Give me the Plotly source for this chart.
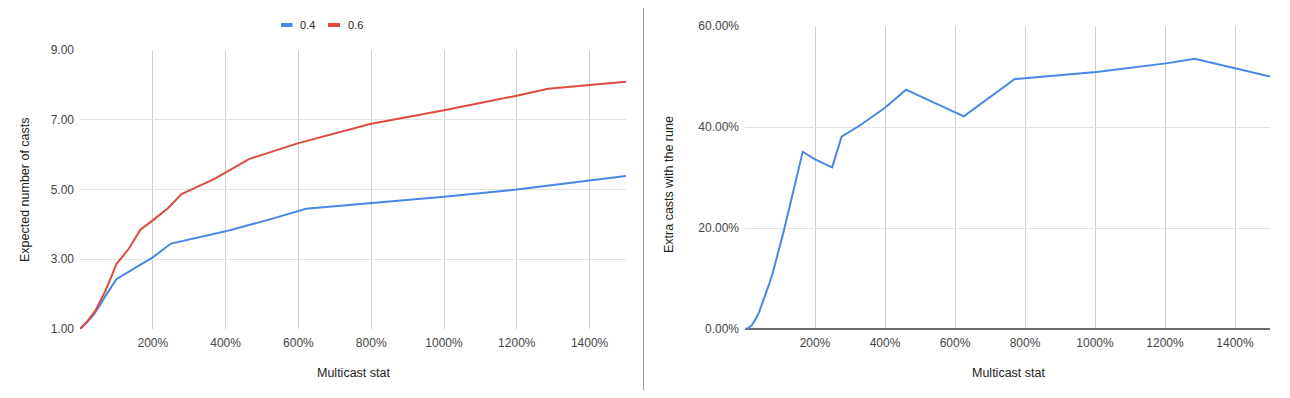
import plotly.graph_objects as go

# ---- data ----
series_names = ["0.4", "0.6"]

x_04 = [0, 20, 38, 55, 70, 85, 100, 157, 198, 250, 400, 524, 621, 1000, 1200, 1500]
y_04 = [1.00, 1.20, 1.42, 1.68, 1.95, 2.20, 2.43, 2.79, 3.04, 3.45, 3.80, 4.15, 4.45, 4.79, 5.00, 5.39]

x_06 = [0, 20, 42, 55, 70, 85, 100, 134, 166, 198, 240, 279, 368, 464, 600, 797, 1000, 1200, 1286, 1500]
y_06 = [1.00, 1.22, 1.52, 1.78, 2.10, 2.47, 2.86, 3.30, 3.85, 4.10, 4.45, 4.87, 5.30, 5.87, 6.33, 6.88, 7.27, 7.69, 7.89, 8.09]

x_extra = [0, 10, 20, 30, 40, 50, 60, 70, 80, 90, 100, 110, 120, 140, 165, 200, 249,
           276, 330, 400, 460, 625, 771, 1004, 1203, 1285, 1500]
y_extra = [0, 0.2, 0.8, 1.9, 3.3, 5.1, 7.0, 9.1, 11.3, 13.8, 16.4, 19.2, 22.1, 27.8, 35.1, 33.6, 32.0,
           38.1, 40.4, 43.8, 47.4, 42.1, 49.5, 50.9, 52.6, 53.5, 50.0]

x_ticks = [200, 400, 600, 800, 1000, 1200, 1400]
y_left_ticks = [1, 3, 5, 7, 9]
y_right_ticks = [0, 20, 40, 60]

BLUE = "#4a86e8"
RED = "#dd4b3e"
# page body has an 8px margin: draw a figure that exactly fills the rest of the window
OFF = 8
W, H = 1290 - 2 * OFF, 398 - 2 * OFF
FONT = "Liberation Sans, Arial, sans-serif"
TXT = "#444444"
GRID_X = "#cfcfcf"
GRID_Y = "#e2e2e2"


def px(x):
    return (x - OFF) / W


def py(y):
    return 1 - (y - OFF) / H


fig = go.Figure()
fig.add_trace(go.Scatter(x=x_04, y=y_04, mode="lines", name=series_names[0],
                         line=dict(color=BLUE, width=2), xaxis="x", yaxis="y"))
fig.add_trace(go.Scatter(x=x_06, y=y_06, mode="lines", name=series_names[1],
                         line=dict(color=RED, width=2), xaxis="x", yaxis="y"))
fig.add_trace(go.Scatter(x=x_extra, y=y_extra, mode="lines", name="extra",
                         line=dict(color=BLUE, width=2), xaxis="x2", yaxis="y2"))

axis_common = dict(showgrid=True, gridwidth=1, showline=False,
                   ticks="", automargin=False,
                   tickfont=dict(family=FONT, size=12, color=TXT))
xa = dict(gridcolor=GRID_X, ticklabelstandoff=5, **axis_common)
ya = dict(gridcolor=GRID_Y, ticklabelstandoff=5, **axis_common)

fig.update_layout(
    width=W, height=H,
    autosize=False,
    margin=dict(l=0, r=0, t=0, b=0, pad=0),
    paper_bgcolor="white", plot_bgcolor="white",
    showlegend=False,
    font=dict(family=FONT, color=TXT),
    xaxis=dict(domain=[px(80), px(626)], range=[0, 1500], tickvals=x_ticks,
               ticktext=[f"{v}%" for v in x_ticks], anchor="y", zeroline=False, **xa),
    yaxis=dict(domain=[py(329), py(50)], range=[1, 9], tickvals=y_left_ticks,
               ticktext=[f"{v:.2f}" for v in y_left_ticks], anchor="x", zeroline=False, **ya),
    xaxis2=dict(domain=[px(745), px(1270)], range=[0, 1500], tickvals=x_ticks,
                ticktext=[f"{v}%" for v in x_ticks], anchor="y2", zeroline=False, **xa),
    yaxis2=dict(domain=[py(329), py(26)], range=[0, 60], tickvals=y_right_ticks,
                ticktext=[f"{v:.2f}%" for v in y_right_ticks], anchor="x2",
                zeroline=True, zerolinecolor="#6b6b6b", zerolinewidth=2, **ya),
)

shapes = [
    # divider between the two charts
    dict(type="line", xref="paper", yref="paper", x0=px(643.5), x1=px(643.5), y0=0, y1=1,
         line=dict(color="#9e9e9e", width=1)),
    # legend swatches
    dict(type="rect", xref="paper", yref="paper", x0=px(281), x1=px(292.5), y0=py(27), y1=py(23),
         fillcolor=BLUE, line=dict(width=0)),
    dict(type="rect", xref="paper", yref="paper", x0=px(328), x1=px(340), y0=py(27), y1=py(23),
         fillcolor=RED, line=dict(width=0)),
]
fig.update_layout(shapes=shapes)

ann = [
    dict(text=series_names[0], x=px(298), y=py(25), xanchor="left", yanchor="middle",
         font=dict(size=11, color="#222222")),
    dict(text=series_names[1], x=px(345.5), y=py(25), xanchor="left", yanchor="middle",
         font=dict(size=11, color="#222222")),
    dict(text="Multicast stat", x=px(353), y=py(373), xanchor="center", yanchor="middle",
         font=dict(size=12.5, color="#222222")),
    dict(text="Multicast stat", x=px(1008), y=py(373), xanchor="center", yanchor="middle",
         font=dict(size=12.5, color="#222222")),
    dict(text="Expected number of casts", x=px(25), y=py(190), xanchor="center", yanchor="middle",
         textangle=-90, font=dict(size=12.5, color="#222222")),
    dict(text="Extra casts with the rune", x=px(669), y=py(185), xanchor="center", yanchor="middle",
         textangle=-90, font=dict(size=12.5, color="#222222")),
]
for a in ann:
    a.update(xref="paper", yref="paper", showarrow=False)
    a["font"]["family"] = FONT
fig.update_layout(annotations=ann)

fig.write_html("out.html")
